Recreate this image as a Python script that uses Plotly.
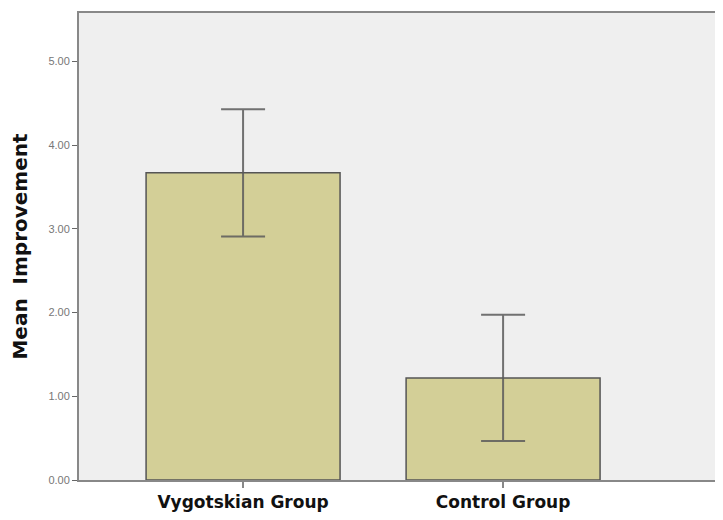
import plotly.graph_objects as go

categories = ["Vygotskian Group", "Control Group"]
means = [3.67, 1.22]
err_plus = [0.76, 0.755]
err_minus = [0.76, 0.755]
y_ticks = [0, 1, 2, 3, 4, 5]
y_tick_labels = ["0.00", "1.00", "2.00", "3.00", "4.00", "5.00"]

fig = go.Figure()
fig.add_trace(go.Bar(
    x=[0, 1],
    y=means,
    width=0.746,
    marker=dict(color="#d3cf97", line=dict(color="#555555", width=1.5)),
    error_y=dict(type="data", symmetric=False, array=err_plus, arrayminus=err_minus,
                 color="rgba(90,90,90,0.85)", thickness=2, width=22),
))

fig.update_layout(
    width=707, height=504,
    margin=dict(l=71, r=0, t=5, b=32),
    paper_bgcolor="white",
    plot_bgcolor="#efefef",
    showlegend=False,
    xaxis=dict(
        range=[-0.631, 1.815], automargin=False,
        tickmode="array", tickvals=[0, 1],
        ticktext=["<b>" + c + "</b>" for c in categories],
        tickfont=dict(family="DejaVu Sans", size=17, color="#111111"),
        showgrid=False, zeroline=False,
        showline=True, linecolor="#888888", linewidth=2, mirror=True,
        ticks="outside", ticklen=6, tickcolor="#888888", tickwidth=2,
    ),
    yaxis=dict(
        range=[0, 5.58], automargin=False,
        tickmode="array", tickvals=y_ticks, ticktext=y_tick_labels,
        tickfont=dict(family="Liberation Sans, Arial", size=11, color="#777777"),
        showgrid=False, zeroline=False,
        showline=True, linecolor="#888888", linewidth=2,
        ticks="outside", ticklen=5, tickcolor="#666666", tickwidth=1,
        title=dict(text="<b>Mean  Improvement</b>",
                   font=dict(family="DejaVu Sans", size=20, color="#111111"),
                   standoff=19),
    ),
)

fig.write_html("out.html")
